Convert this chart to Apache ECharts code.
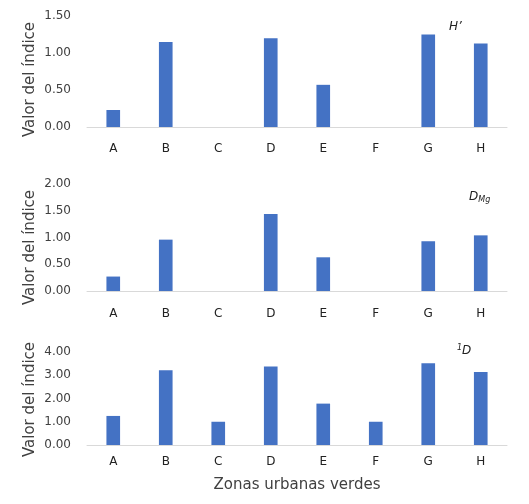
<!DOCTYPE html>
<html>
<head>
<meta charset="utf-8">
<script src="https://cdn.jsdelivr.net/npm/echarts@6/dist/echarts.min.js"></script>
<style>
html,body{margin:0;padding:0;background:#fff;}
#chart{width:529px;height:504px;}
</style>
</head>
<body>
<div id="chart"></div>
<script>
const categories = ['A','B','C','D','E','F','G','H'];
const shannonH = [0.23, 1.15, 0, 1.20, 0.57, 0, 1.25, 1.13];
const margalefDMg = [0.27, 0.96, 0, 1.44, 0.63, 0, 0.93, 1.04];
const hillD1 = [1.25, 3.22, 1.0, 3.38, 1.78, 1.0, 3.52, 3.14];
const yMax = [1.5, 2.0, 4.0];
const yInterval = [0.5, 0.5, 1.0];
const yAxisTitle = 'Valor del índice';
const xAxisTitle = 'Zonas urbanas verdes';

const FONT = '"DejaVu Sans", Verdana, sans-serif';
const TXT = '#404040';
const grids = [
  {left: 87, right: 22, top: 16, height: 111},
  {left: 87, right: 22, top: 184, height: 107},
  {left: 87, right: 22, top: 352, height: 93}
];
const labelMargins = [16, 17, 11];
const namePads = [[0, 16, 0, 0], [0, 20, 0, 0], [0, 2, 0, 0]];
const seriesData = [shannonH, margalefDMg, hillD1];

const chart = echarts.init(document.getElementById('chart'), null, {renderer: 'canvas'});
const option = {
  backgroundColor: '#fff',
  animation: false,
  grid: grids,
  xAxis: grids.map((g, i) => ({
    type: 'category',
    gridIndex: i,
    data: categories,
    axisLine: {lineStyle: {color: '#d9d9d9', width: 1}},
    axisTick: {show: false},
    axisLabel: {color: '#222', fontFamily: FONT, fontSize: 12, margin: labelMargins[i]},
    name: i === 2 ? xAxisTitle : '',
    nameLocation: 'middle',
    nameGap: 33,
    nameMoveOverlap: false,
    nameTextStyle: {color: TXT, fontFamily: FONT, fontSize: 15}
  })),
  yAxis: grids.map((g, i) => ({
    type: 'value',
    gridIndex: i,
    min: 0,
    max: yMax[i],
    interval: yInterval[i],
    axisLine: {show: false},
    axisTick: {show: false},
    splitLine: {show: false},
    axisLabel: {color: TXT, fontFamily: FONT, fontSize: 12, margin: 16,
      formatter: v => v.toFixed(2)},
    name: yAxisTitle,
    nameLocation: 'middle',
    nameGap: 49,
    nameMoveOverlap: false,
    nameTextStyle: {color: TXT, fontFamily: FONT, fontSize: 15, padding: namePads[i]}
  })),
  series: seriesData.map((d, i) => ({
    type: 'bar',
    xAxisIndex: i,
    yAxisIndex: i,
    data: d,
    barWidth: '26%',
    itemStyle: {color: '#4472C4'}
  })),
  graphic: [
    {type: 'text', x: 449, y: 21, style: {text: 'H’', fontFamily: FONT, fontSize: 12, fontStyle: 'italic', fill: '#222'}},
    {type: 'text', x: 469, y: 190, style: {text: '{d|D}{s|Mg}', fill: '#222',
      rich: {d: {fontFamily: FONT, fontSize: 12, fontStyle: 'italic', fill: '#222'},
             s: {fontFamily: FONT, fontSize: 8, fontStyle: 'italic', fill: '#222', padding: [6, 0, 0, 0]}}}},
    {type: 'text', x: 457, y: 344, style: {text: '{s|1}{d|D}', fill: '#222',
      rich: {s: {fontFamily: FONT, fontSize: 8, fontStyle: 'italic', fill: '#222', padding: [0, 0, 6, 0]},
             d: {fontFamily: FONT, fontSize: 12, fontStyle: 'italic', fill: '#222'}}}}
  ]
};
chart.setOption(option);
</script>
</body>
</html>
